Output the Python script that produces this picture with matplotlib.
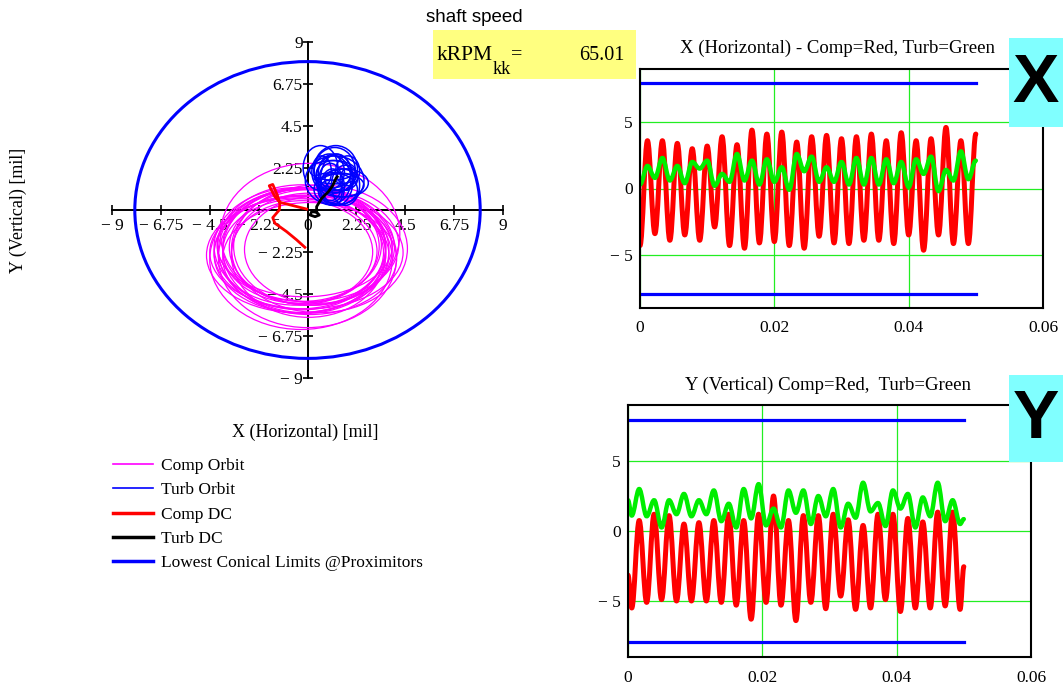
import numpy as np
import matplotlib
matplotlib.use("Agg")
import matplotlib.pyplot as plt
from matplotlib.patches import Ellipse, Rectangle, PathPatch
from matplotlib.path import Path
from matplotlib.lines import Line2D

# ---- data (mils / seconds) ----
speed_krpm = "65.01"
limit = 7.95                 # lowest conical limit @ proximitors
limit_t = [0.0, 0.05]

# X (horizontal): troughs and peaks per cycle
comp_x_lo = [-4.3, -3.4, -3.9, -3.5, -3.9, -2.9, -4.3, -4.5, -4.1, -4.0, -4.3, -4.5,
             -3.6, -4.1, -4.15, -3.9, -3.9, -4.15, -3.5, -4.65, -3.5, -4.15, -4.15]
comp_x_hi = [3.6, 3.6, 3.4, 3.0, 3.2, 3.9, 3.3, 4.4, 4.1, 4.25, 3.5, 3.9,
             4.0, 3.75, 3.9, 4.1, 3.6, 4.2, 3.6, 3.75, 4.6, 3.6, 4.1]
turb_x_lo = [0.3, 0.8, 0.6, 0.4, 1.5, 0.2, 0.5, 0.6, 0.3, 0.5, -0.1, 1.3,
             0.5, 0.5, 0.3, 0.3, 0.3, 0.4, 0.1, 1.1, -0.2, 0.6, 0.7]
turb_x_hi = [1.7, 2.3, 1.7, 2.0, 2.1, 1.1, 2.6, 2.1, 2.2, 1.6, 2.6, 2.4,
             1.6, 2.0, 2.3, 2.3, 2.2, 2.0, 2.2, 2.4, 1.4, 2.8, 2.1]

# Y (vertical): start value, troughs, peaks, end value
comp_y_ends = [-3.15, -2.55]
comp_y_lo = [-5.5, -5.1, -4.9, -5.0, -5.0, -5.0, -5.1, -5.3, -6.3, -5.1, -5.3, -6.4,
             -5.1, -5.55, -4.65, -5.6, -5.5, -4.9, -5.75, -5.5, -5.5, -5.35, -5.6]
comp_y_hi = [0.75, 1.2, 1.1, 0.5, 0.6, 0.75, 1.2, 0.75, 1.2, 2.5, 0.75,
             1.1, 1.1, 1.2, 0.8, 0.4, 1.2, 1.2, 0.9, 0.65, 1.35, 1.35]
turb_y_ends = [2.2, 0.85]
turb_y_lo = [1.1, 1.05, 0.25, 1.2, 1.05, 1.2, 0.7, 0.25, 0.9, 0.4, 0.25, 1.3,
             0.5, 1.05, 0.25, 0.95, 1.4, 0.35, 1.6, 0.25, 1.05, 0.7, 0.5]
turb_y_hi = [3.0, 2.2, 2.2, 2.65, 2.2, 2.9, 1.95, 3.0, 3.35, 1.6, 2.9,
             2.9, 2.5, 3.0, 1.95, 3.45, 2.0, 2.9, 2.65, 2.4, 3.45, 2.2]

# DC (mean position) traces
comp_dc_x = [-0.04, -0.65, -1.27, -1.5, -1.76, -1.6, -1.39, -1.27, -1.3, -1.6, -1.5, -0.96, -0.5, -0.12]
comp_dc_y = [0.05, 0.23, 0.41, 0.71, 1.3, 1.37, 0.8, 0.36, 0.0, -0.41, -0.71, -1.16, -1.6, -2.0]
turb_dc_x = [0.42, 0.19, 0.12, 0.35, 0.54, 0.42, 0.42, 0.65, 0.96, 1.16, 1.31, 1.37]
turb_dc_y = [-0.12, -0.09, -0.27, -0.36, -0.27, -0.12, 0.18, 0.62, 0.98, 1.3, 1.7, 1.78]

orbit_ticks = [-9, -6.75, -4.5, -2.25, 0, 2.25, 4.5, 6.75, 9]
orbit_xlabels = ["\u2212 9", "\u2212 6.75", "\u2212 4.5", "\u2212 2.25", "0", "2.25", "4.5", "6.75", "9"]
orbit_ylabels = ["\u2212 9", "\u2212 6.75", "\u2212 4.5", "\u2212 2.25", "", "2.25", "4.5", "6.75", "9"]
time_ticks = [0, 0.02, 0.04, 0.06]
time_labels = ["0", "0.02", "0.04", "0.06"]
amp_ticks = [-5, 0, 5]
amp_labels = ["\u2212 5", "0", "5"]

# sample instants: quarter-period grid, x extrema on even, y extrema on odd steps
t_q = np.linspace(0, 0.05, 91)
t_x = t_q[0::2]
t_y = np.r_[t_q[0], t_q[1:90:2], t_q[90]]


def x_series(lo, hi):
    return np.ravel(np.column_stack([lo, hi]))


def y_series(ends, lo, hi):
    mid = np.ravel(np.column_stack([lo[:-1], hi]))
    return np.r_[ends[0], mid, lo[-1], ends[1]]


comp_x = x_series(comp_x_lo, comp_x_hi)
turb_x = x_series(turb_x_lo, turb_x_hi)
comp_y = y_series(comp_y_ends, comp_y_lo, comp_y_hi)
turb_y = y_series(turb_y_ends, turb_y_lo, turb_y_hi)

plt.rcParams["font.family"] = ["Liberation Serif", "DejaVu Serif"]
W, H = 1063, 685
fig = plt.figure(figsize=(W / 100, H / 100), dpi=100)


def fx(px):
    return px / W


def fy(py):
    return 1 - py / H


# ---- orbit plot ----
ax = fig.add_axes([fx(112), fy(378), 391 / W, 336 / H])
ax.set_xlim(-9, 9)
ax.set_ylim(-9, 9)
for s in ["top", "right"]:
    ax.spines[s].set_visible(False)
for s in ["left", "bottom"]:
    ax.spines[s].set_position(("data", 0))
    ax.spines[s].set_linewidth(1.4)
ax.set_xticks(orbit_ticks, orbit_xlabels)
ax.set_yticks(orbit_ticks, orbit_ylabels)
ax.tick_params(axis="both", direction="inout", length=7, width=1.2, labelsize=12.5)
ax.tick_params(axis="x", pad=2)
ax.tick_params(axis="y", pad=0)
ax.patch.set_alpha(0)


def loops(xlo, xhi, ylo, yhi):
    n = min(len(xlo), len(xhi), len(ylo), len(yhi))
    for k in range(n):
        cx = (xlo[k] + xhi[k]) / 2
        cy = (ylo[k] + yhi[k]) / 2
        yield (cx, cy), xhi[k] - xlo[k], yhi[k] - ylo[k]


for c, w, h in loops(comp_x_lo, comp_x_hi, comp_y_lo, comp_y_hi):
    ax.add_patch(Ellipse(c, w, h, fill=False, ec="#ff00ff", lw=0.9, zorder=3))
for c, w, h in loops(turb_x_lo, turb_x_hi, turb_y_lo, turb_y_hi):
    ax.add_patch(Ellipse(c, w, h, fill=False, ec="#0000ff", lw=1.1, zorder=3))
ax.plot(comp_dc_x, comp_dc_y, color="#ff0000", lw=2.0, zorder=4)
ax.plot(turb_dc_x, turb_dc_y, color="black", lw=2.0, zorder=4)
ax.add_patch(Ellipse((0, 0), 2 * limit, 2 * limit, fill=False, ec="#0000ff", lw=2.2, zorder=4))

fig.text(fx(18), fy(210), "Y (Vertical) [mil]", rotation=90, ha="center", va="center", fontsize=13)
fig.text(fx(305), fy(432), "X (Horizontal) [mil]", ha="center", va="center", fontsize=13)

handles = [
    Line2D([], [], color="#ff00ff", lw=1.2),
    Line2D([], [], color="#0000ff", lw=1.2),
    Line2D([], [], color="#ff0000", lw=2.5),
    Line2D([], [], color="black", lw=2.5),
    Line2D([], [], color="#0000ff", lw=2.5),
]
names = ["Comp Orbit", "Turb Orbit", "Comp DC", "Turb DC", "Lowest Conical Limits @Proximitors"]
fig.legend(handles, names, loc="upper left", bbox_to_anchor=(fx(113), fy(458)),
           frameon=False, fontsize=12.5, borderpad=0, borderaxespad=0,
           handlelength=2.3, handletextpad=0.45, labelspacing=0.47)


# ---- time plots ----
def wave_path(t, v, a=0.36):
    # smooth curve through the sampled extrema (flat tangent at each sample)
    verts = [(t[0], v[0])]
    codes = [Path.MOVETO]
    for i in range(len(t) - 1):
        dt = t[i + 1] - t[i]
        verts += [(t[i] + a * dt, v[i]), (t[i + 1] - a * dt, v[i + 1]), (t[i + 1], v[i + 1])]
        codes += [Path.CURVE4] * 3
    return Path(verts, codes)


def time_plot(rect, t, comp, turb):
    a = fig.add_axes(rect)
    a.set_xlim(0, 0.06)
    a.set_ylim(-9, 9)
    a.set_xticks(time_ticks, time_labels)
    a.set_yticks(amp_ticks, amp_labels)
    a.tick_params(length=0, labelsize=12.5)
    a.tick_params(axis="x", pad=9)
    a.tick_params(axis="y", pad=5)
    a.grid(True, color="#22ee22", lw=0.9)
    for s in a.spines.values():
        s.set_linewidth(1.5)
    a.add_patch(PathPatch(wave_path(t, comp), fill=False, ec="#ff0000", lw=3.6,
                          capstyle="round", joinstyle="round", zorder=2))
    a.add_patch(PathPatch(wave_path(t, turb), fill=False, ec="#00ee00", lw=3.2,
                          capstyle="round", joinstyle="round", zorder=2.1))
    a.plot(limit_t, [limit, limit], color="#0000ff", lw=2.3)
    a.plot(limit_t, [-limit, -limit], color="#0000ff", lw=2.3)
    return a


axX = time_plot([fx(640), fy(308), 403 / W, 239 / H], t_x, comp_x, turb_x)
axY = time_plot([fx(628), fy(657), 403 / W, 252 / H], t_y, comp_y, turb_y)

fig.text(fx(838), fy(48), "X (Horizontal) - Comp=Red, Turb=Green", ha="center", va="center", fontsize=13.5)
fig.text(fx(828), fy(385), "Y (Vertical) Comp=Red,  Turb=Green", ha="center", va="center", fontsize=13.5)

# cyan X / Y markers
for top, bot, letter in [(38, 127, "X"), (375, 462, "Y")]:
    fig.patches.append(Rectangle((fx(1009), fy(bot)), 54 / W, (bot - top) / H,
                                 transform=fig.transFigure, fc="#80ffff", ec="none", zorder=5))
    fig.text(fx(1036), fy((top + bot) / 2 + 2), letter, ha="center", va="center",
             fontsize=50, fontweight="bold", family="Liberation Sans", zorder=6)

# shaft speed box
fig.text(fx(474), fy(17), "shaft speed", ha="center", va="center", fontsize=13.5, family="Liberation Sans")
fig.patches.append(Rectangle((fx(433), fy(79)), 203 / W, 49 / H,
                             transform=fig.transFigure, fc="#ffff80", ec="none", zorder=5))
fig.text(fx(437), fy(56), "kRPM", ha="left", va="center", fontsize=15.5, zorder=6)
fig.text(fx(493), fy(69), "kk", ha="left", va="center", fontsize=13, zorder=6)
fig.text(fx(511), fy(55), "=", ha="left", va="center", fontsize=14.5, zorder=6)
fig.text(fx(624), fy(55), speed_krpm, ha="right", va="center", fontsize=14.5, zorder=6)

fig.savefig("out.png", dpi=100)
plt.close(fig)
